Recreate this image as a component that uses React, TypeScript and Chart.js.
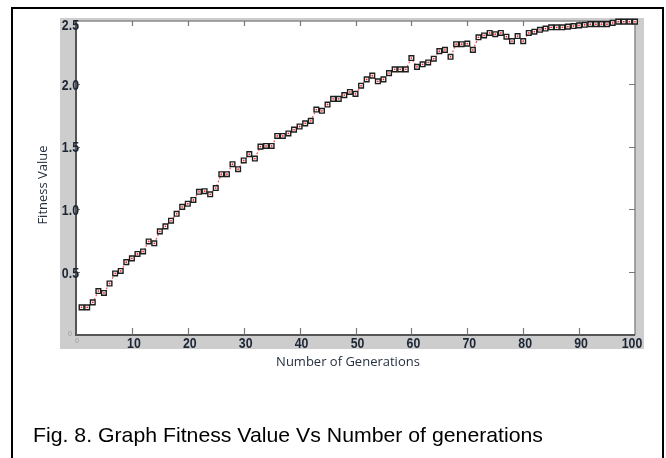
import React, { useEffect, useRef } from "react";
import { Chart, registerables } from "chart.js";

Chart.register(...registerables);

const GENERATIONS: number[] = Array.from({ length: 100 }, (_, i) => i + 1);
const FITNESS: number[] = [
  0.22, 0.22, 0.26, 0.35, 0.335, 0.41, 0.49, 0.51, 0.58, 0.61,
  0.645, 0.665, 0.745, 0.73, 0.825, 0.865, 0.91, 0.965, 1.02, 1.045,
  1.075, 1.14, 1.145, 1.12, 1.17, 1.28, 1.28, 1.36, 1.32, 1.39,
  1.44, 1.405, 1.5, 1.505, 1.505, 1.585, 1.585, 1.605, 1.635, 1.66,
  1.685, 1.705, 1.795, 1.785, 1.835, 1.88, 1.88, 1.91, 1.935, 1.92,
  1.985, 2.035, 2.065, 2.02, 2.035, 2.085, 2.115, 2.115, 2.115, 2.205,
  2.135, 2.155, 2.17, 2.2, 2.26, 2.27, 2.215, 2.315, 2.315, 2.32,
  2.27, 2.37, 2.385, 2.405, 2.395, 2.405, 2.375, 2.34, 2.38, 2.34,
  2.405, 2.415, 2.43, 2.44, 2.45, 2.45, 2.45, 2.455, 2.46, 2.465,
  2.47, 2.475, 2.475, 2.475, 2.475, 2.485, 2.495, 2.495, 2.495, 2.495,
];
const X_TICKS: number[] = [10, 20, 30, 40, 50, 60, 70, 80, 90, 100];
const Y_TICKS: number[] = [0.5, 1.0, 1.5, 2.0, 2.5];

const X_TITLE = "Number of Generations";
const Y_TITLE = "Fitness Value";
const CAPTION = "Fig. 8. Graph Fitness Value Vs Number of generations";

const TICK_FONT = "bold 14px 'Liberation Sans', Arial, sans-serif";
const TICK_COLOR = "#1c2635";

function narrowText(ctx: any, text: string, x: number, y: number, align: "center" | "right", sx: number) {
  const w = ctx.measureText(text).width * sx;
  const left = align === "center" ? x - w / 2 : x - w;
  ctx.save();
  ctx.translate(left, y);
  ctx.scale(sx, 1);
  ctx.textAlign = "left";
  ctx.fillText(text, 0, 0);
  ctx.restore();
}

const framePlugin = {
  id: "framePlugin",
  beforeDraw(chart: any) {
    const { ctx, chartArea: a, width, height } = chart;
    ctx.save();
    ctx.fillStyle = "#ffffff";
    ctx.fillRect(0, 0, width, height);
    ctx.fillStyle = "#cdcdcd";
    ctx.fillRect(60, 18, 584, 331);
    ctx.fillStyle = "#ffffff";
    ctx.fillRect(a.left, a.top, a.right - a.left, a.bottom - a.top);
    ctx.strokeStyle = "#000000";
    ctx.lineWidth = 2;
    ctx.strokeRect(12, 8, 651, 470);
    ctx.restore();
  },
  beforeDatasetsDraw(chart: any) {
    const { ctx, chartArea: a, scales } = chart;
    const xs = scales.x;
    const ys = scales.y;
    ctx.save();
    ctx.strokeStyle = "#8a8a8a";
    ctx.lineWidth = 1.5;
    ctx.beginPath();
    ctx.moveTo(a.left, a.top);
    ctx.lineTo(a.right, a.top);
    ctx.moveTo(a.right, a.top);
    ctx.lineTo(a.right, a.bottom);
    ctx.stroke();
    ctx.strokeStyle = "#555555";
    ctx.lineWidth = 2;
    ctx.beginPath();
    ctx.moveTo(a.left, a.top);
    ctx.lineTo(a.left, a.bottom);
    ctx.lineTo(a.right, a.bottom);
    ctx.stroke();
    ctx.lineWidth = 1.2;
    ctx.strokeStyle = "#777777";
    ctx.beginPath();
    X_TICKS.forEach((v) => {
      if (v >= 100) return;
      const px = Math.round(xs.getPixelForValue(v)) + 0.5;
      ctx.moveTo(px, a.top);
      ctx.lineTo(px, a.top + 5);
      ctx.moveTo(px, a.bottom);
      ctx.lineTo(px, a.bottom - 7);
    });
    Y_TICKS.forEach((v) => {
      if (v >= 2.5) return;
      const py = Math.round(ys.getPixelForValue(v)) + 0.5;
      ctx.moveTo(a.left, py);
      ctx.lineTo(a.left + 4, py);
      ctx.moveTo(a.right, py);
      ctx.lineTo(a.right - 6, py);
    });
    ctx.stroke();
    ctx.restore();
  },
  afterDraw(chart: any) {
    const { ctx, chartArea: a, scales } = chart;
    const xs = scales.x;
    const ys = scales.y;

    ctx.save();
    ctx.fillStyle = TICK_COLOR;
    ctx.font = TICK_FONT;
    ctx.textBaseline = "middle";
    X_TICKS.forEach((v) => {
      const px = xs.getPixelForValue(v);
      const cx = v === 100 ? px - 3 : px + 2;
      narrowText(ctx, String(v), cx, a.bottom + 9, "center", 0.88);
    });
    Y_TICKS.forEach((v) => {
      const py = ys.getPixelForValue(v) + (v === 2.5 ? 5 : 2);
      narrowText(ctx, v.toFixed(1), a.left + 3, py, "right", 0.88);
    });
    ctx.fillStyle = "#9a9a9a";
    ctx.font = "7px 'Liberation Sans', Arial, sans-serif";
    ctx.textAlign = "center";
    ctx.fillText("0", a.left - 6, a.bottom - 1);
    ctx.fillText("0", a.left + 1, a.bottom + 6);
    ctx.restore();

    ctx.save();
    ctx.fillStyle = "#26303e";
    ctx.font = "13px 'Open Sans', sans-serif";
    ctx.textAlign = "center";
    ctx.textBaseline = "middle";
    ctx.fillText(X_TITLE, 348, 362);
    ctx.translate(43, 185);
    ctx.rotate(-Math.PI / 2);
    ctx.fillText(Y_TITLE, 0, 0);
    ctx.restore();

    ctx.save();
    ctx.fillStyle = "#000000";
    ctx.font = "21px 'Liberation Sans', Arial, sans-serif";
    ctx.textAlign = "left";
    ctx.textBaseline = "alphabetic";
    const w = ctx.measureText(CAPTION).width;
    const sx = 510 / w;
    ctx.translate(33, 442);
    ctx.scale(sx, 1);
    ctx.fillText(CAPTION, 0, 0);
    ctx.restore();
  },
};

export default function App() {
  const ref = useRef<HTMLCanvasElement | null>(null);

  useEffect(() => {
    if (!ref.current) return;
    const points = GENERATIONS.map((g, i) => ({ x: g, y: FITNESS[i] }));
    const chart = new Chart(ref.current, {
      type: "line",
      data: {
        datasets: [
          {
            label: "Fitness",
            data: points,
            order: 2,
            borderColor: "rgba(255,70,70,0.95)",
            borderWidth: 1.2,
            borderDash: [2, 2],
            pointStyle: "rect",
            pointRadius: 3.3,
            pointBorderColor: "#1e1e1e",
            pointBorderWidth: 1.4,
            pointBackgroundColor: "#ffffff",
            tension: 0,
            clip: false as any,
          },
          {
            label: "Fitness dots",
            data: points,
            order: 1,
            showLine: false,
            pointStyle: "circle",
            pointRadius: 0.9,
            pointBorderWidth: 0,
            pointBackgroundColor: "#ff2020",
            clip: false as any,
          },
        ],
      },
      options: {
        animation: false,
        responsive: false,
        maintainAspectRatio: false,
        layout: { padding: { top: 21, right: 31, left: 0, bottom: 0 } },
        plugins: {
          legend: { display: false },
          tooltip: { enabled: false },
          title: { display: false },
        },
        scales: {
          x: {
            type: "linear",
            min: 0,
            max: 100,
            grid: { display: false },
            border: { display: false },
            ticks: { display: false, stepSize: 10 },
            afterFit: (s: any) => {
              s.height = 123;
              s.paddingLeft = 0;
              s.paddingRight = 0;
            },
          },
          y: {
            type: "linear",
            min: 0,
            max: 2.5,
            grid: { display: false },
            border: { display: false },
            ticks: { display: false, stepSize: 0.5 },
            afterFit: (s: any) => {
              s.width = 76;
              s.paddingTop = 0;
              s.paddingBottom = 0;
            },
          },
        },
      },
      plugins: [framePlugin],
    });
    return () => chart.destroy();
  }, []);

  return (
    <div style={{ position: "absolute", left: 0, top: 0, width: 666, height: 458, background: "#fff" }}>
      <canvas ref={ref} width={666} height={458} style={{ display: "block", width: 666, height: 458 }} />
    </div>
  );
}
